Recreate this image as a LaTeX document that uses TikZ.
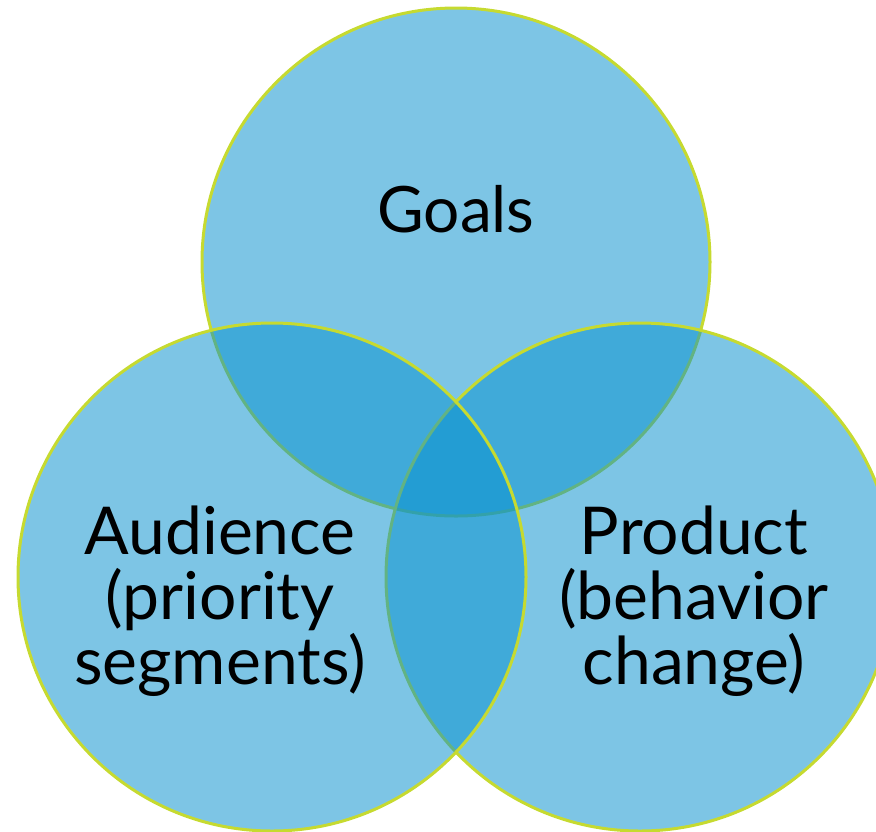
\documentclass[tikz,border=0pt]{standalone}
\usepackage{fontspec}
\setmainfont{Lato}
\begin{document}
\begin{tikzpicture}[x=1pt,y=-1pt]
\useasboundingbox (0,0) rectangle (876,831);
\clip (0,0) rectangle (876,831);
\pgfmathsetlengthmacro\rad{254pt};
\definecolor{vennblue}{RGB}{10,146,206}
\definecolor{vennrim}{RGB}{198,218,48}
\tikzset{venn/.style={fill = vennblue, fill opacity = 0.53, draw = vennrim, line width = 3pt},
  label/.style={inner sep = 0, align = center, font = \fontsize{66}{65}\selectfont}}
% goals first, then product, audience on top
\draw [venn] (456,262) circle (\rad);
\draw [venn] (640,577) circle (\rad);
\draw [venn] (272,577) circle (\rad);
\node [label, anchor = base, font = \fontsize{64}{66}\selectfont] (goals) at (456,232){Goals};
\node [label] (audience) at (220,601){Audience\\(priority\\segments)};
\node [label] (product) at (694,601){Product\\(behavior\\change)};
\end{tikzpicture}
\end{document}
